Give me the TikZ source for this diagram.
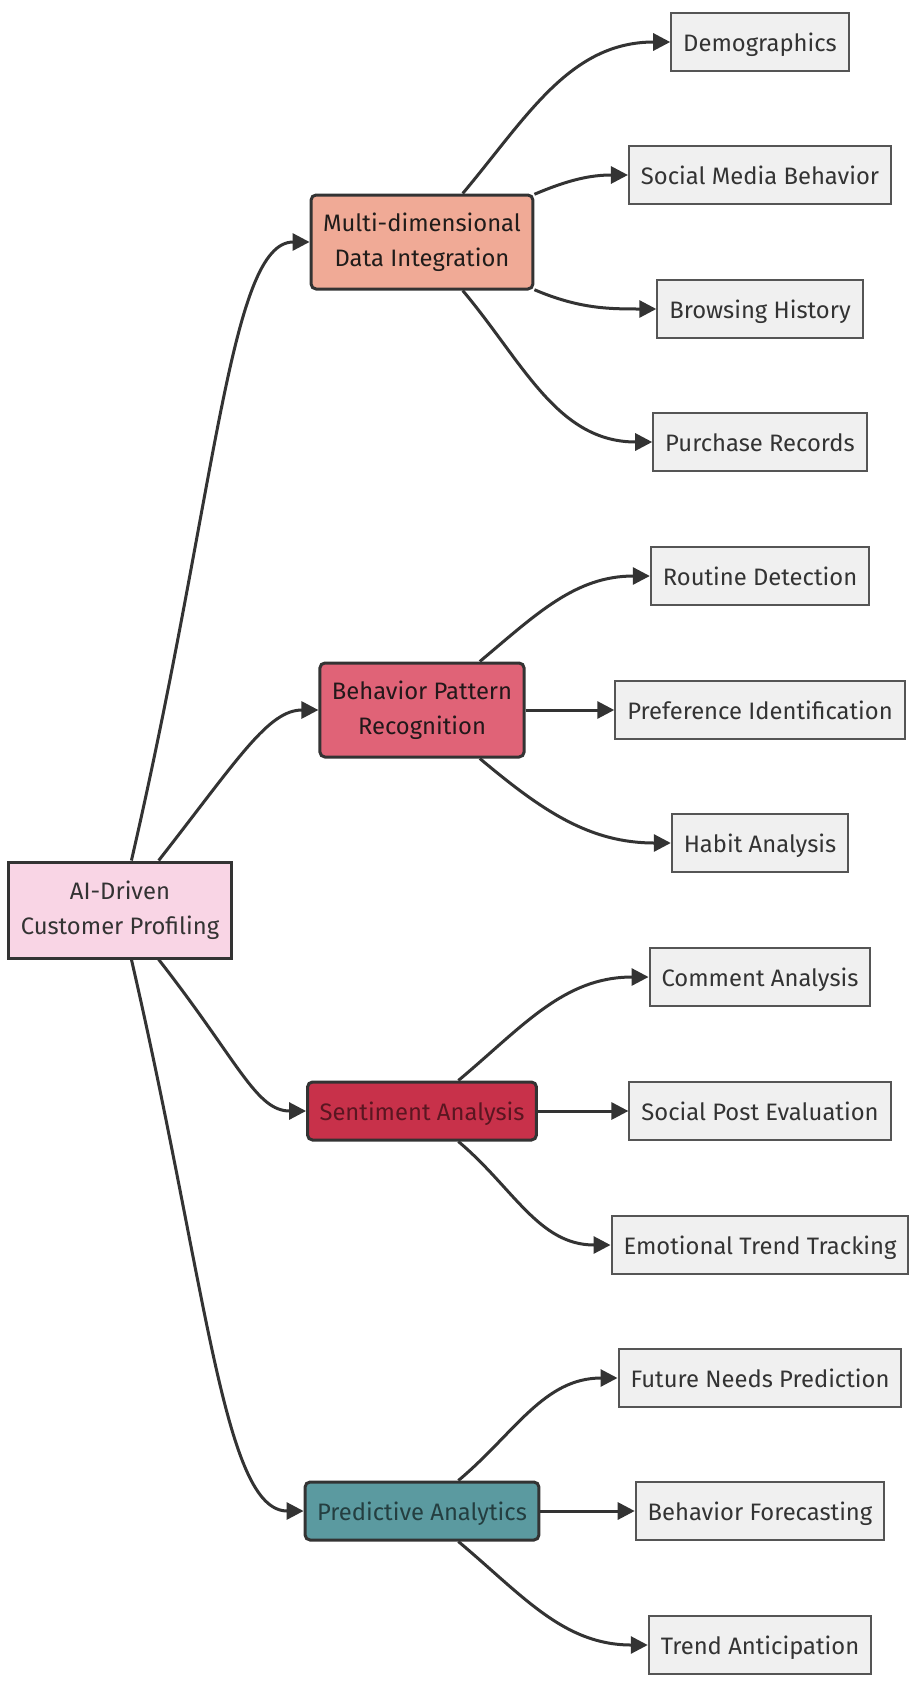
\documentclass[tikz,border=0pt]{standalone}
\usepackage{fontspec}
\setmainfont{Fira Sans}
\usetikzlibrary{arrows.meta}
\definecolor{ink}{HTML}{333333}
\definecolor{rootpink}{HTML}{F9D5E5}
\definecolor{leafgray}{HTML}{F0F0F0}
\definecolor{leafline}{HTML}{555555}
\definecolor{mdicol}{HTML}{F0AA96}
\definecolor{bprcol}{HTML}{E06377}
\definecolor{sacol}{HTML}{C8314A}
\definecolor{pacol}{HTML}{5B9AA0}
\begin{document}
\begin{tikzpicture}[x=1pt,y=1pt,
    base/.style={draw=ink, text=ink, align=center, inner xsep=12pt, font=\fontsize{23.8}{35}\selectfont},
    oneline/.style={text height=24pt, text depth=6pt},
    rootbox/.style={base, fill=rootpink, line width=3pt, minimum height=96pt},
    hub/.style={base, rounded corners=5pt, line width=3pt, minimum height=58pt},
    leaf/.style={base, oneline, fill=leafgray, draw=leafline, line width=2pt, minimum height=58pt},
    edge/.style={ink, line width=3pt, -{Triangle[length=17pt,width=17pt]}}]
    \useasboundingbox[fill=white] (0,0) rectangle (923,-1692);
    \node[rootbox] (root) at (120,-910) {AI-Driven\\Customer Profiling};
    \node[hub, fill=mdicol, text=ink!85!mdicol!40!black, minimum height=94pt] (mdi) at (422,-242) {Multi-dimensional\\Data Integration};
    \node[hub, fill=bprcol, text=ink!80!bprcol!40!black, minimum height=94pt] (bpr) at (422,-710) {Behavior Pattern\\Recognition};
    \node[hub, oneline, fill=sacol, text=sacol!45!black] (sa) at (422,-1111) {Sentiment Analysis};
    \node[hub, oneline, fill=pacol, text=pacol!40!black] (pa) at (422,-1511) {Predictive Analytics};
    \foreach \n/\y/\t in {dem/42/Demographics, smb/175/Social Media Behavior, bh/309/Browsing History,
        pr/442/Purchase Records, rd/576/Routine Detection, pi/710/Preference Identification,
        ha/843/Habit Analysis, ca/977/Comment Analysis, spe/1111/Social Post Evaluation,
        ett/1245/Emotional Trend Tracking, fnp/1378/Future Needs Prediction,
        bf/1511/Behavior Forecasting, ta/1645/Trend Anticipation}
        \node[leaf] (\n) at (760,-\y) {\t};
    \draw[edge] (root.77) .. controls +(77:380) and +(180:80) .. (mdi.west);
    \draw[edge] (root.52) .. controls +(52:130) and +(180:50) .. (bpr.west);
    \draw[edge] (root.-52) .. controls +(-52:130) and +(180:50) .. (sa.west);
    \draw[edge] (root.-77) .. controls +(-77:340) and +(180:80) .. (pa.west);
    \foreach \a/\o/\b in {mdi/50/dem, mdi/23/smb, mdi/-23/bh, mdi/-50/pr,
        bpr/40/rd, bpr/0/pi, bpr/-40/ha, sa/40/ca, sa/0/spe, sa/-40/ett,
        pa/40/fnp, pa/0/bf, pa/-40/ta}
        \draw[edge] (\a.\o) to[out=\o,in=180] (\b.west);
\end{tikzpicture}
\end{document}
